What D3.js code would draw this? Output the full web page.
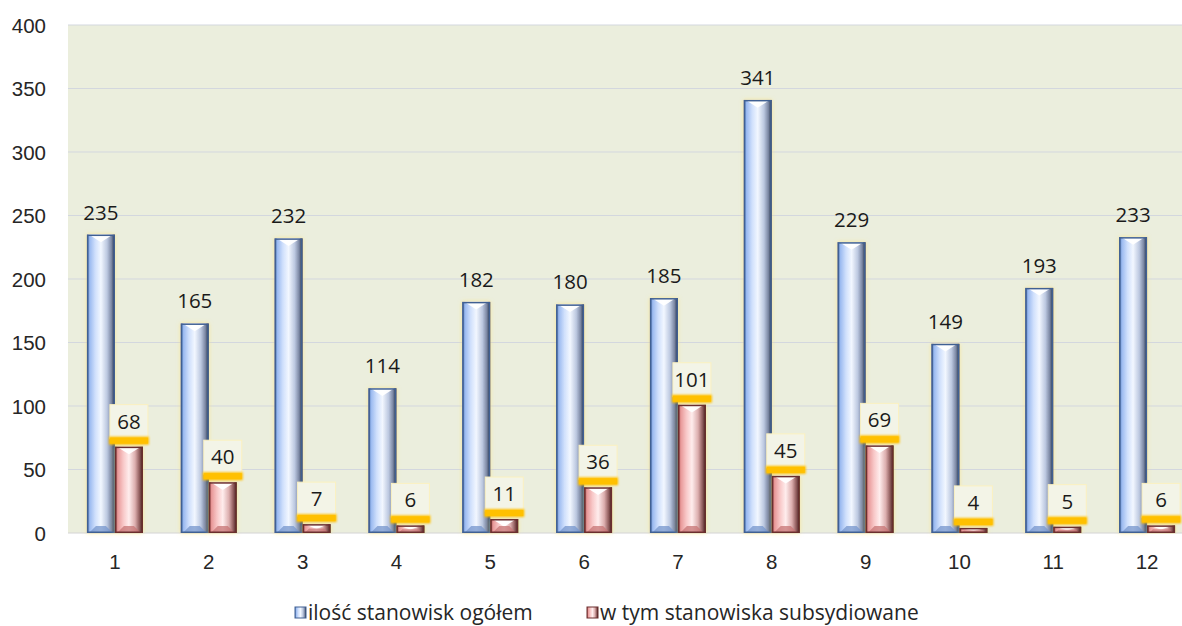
<!DOCTYPE html>
<html>
<head>
<meta charset="utf-8">
<style>
  body { margin: 0; background: #fff; }
  svg { display: block; font-family: "Open Sans", Lato, sans-serif; }
  .tick text { font-size: 20.5px; fill: #262626; }
</style>
</head>
<body>
<svg width="1182" height="626"></svg>
<script src="https://d3js.org/d3.v7.min.js"></script>
<script>
// data
let categories = ["1","2","3","4","5","6","7","8","9","10","11","12"];
let totalJobs = [235,165,232,114,182,180,185,341,229,149,193,233];
let subsidizedJobs = [68,40,7,6,11,36,101,45,69,4,5,6];
let yTicks = [0,50,100,150,200,250,300,350,400];
let seriesNames = ["ilość stanowisk ogółem", "w tym stanowiska subsydiowane"];

let svg = d3.select("svg");
let margin = {top: 25, left: 68, bottom: 93};
let plotRight = 1194;
let height = 626;

// scales
let x0 = d3.scaleBand()
    .domain(categories)
    .range([margin.left, plotRight])
    .paddingInner(0.403)
    .paddingOuter(0.2015);
let x1 = d3.scaleBand()
    .domain(["total","sub"])
    .range([0, x0.bandwidth()]);
let y = d3.scaleLinear()
    .domain([0, 400])
    .range([height - margin.bottom, margin.top]);

// gradients + filters
let defs = svg.append("defs");
function hGrad(id, stops) {
    let g = defs.append("linearGradient").attr("id", id)
        .attr("x1", "0%").attr("x2", "100%").attr("y1", "0%").attr("y2", "0%");
    stops.forEach(s => g.append("stop").attr("offset", s[0]).attr("stop-color", s[1]));
}
hGrad("blueFace", [["0%","#4169a8"],["10%","#9bbaf0"],["30%","#d0e0fc"],["50%","#f2f7ff"],["72%","#bcc8e0"],["88%","#7a86a2"],["100%","#1d2a42"]]);
hGrad("redFace", [["0%","#8a3434"],["10%","#e89898"],["30%","#f8c8c8"],["50%","#ffeded"],["72%","#dcaeae"],["88%","#8e5a5a"],["100%","#3a1818"]]);

let glow = defs.append("filter").attr("id", "glow")
    .attr("x", "-30%").attr("y", "-10%").attr("width", "160%").attr("height", "120%");
glow.append("feGaussianBlur").attr("in", "SourceAlpha").attr("stdDeviation", 2).attr("result", "b");
glow.append("feFlood").attr("flood-color", "#ffe066").attr("flood-opacity", 0.6);
glow.append("feComposite").attr("in2", "b").attr("operator", "in").attr("result", "c");
let mg = glow.append("feMerge");
mg.append("feMergeNode").attr("in", "c");
mg.append("feMergeNode").attr("in", "SourceGraphic");

let soft = defs.append("filter").attr("id", "soft")
    .attr("x", "-20%").attr("y", "-60%").attr("width", "140%").attr("height", "220%");
soft.append("feGaussianBlur").attr("stdDeviation", 1.3);

// plot background
svg.append("rect")
    .attr("x", margin.left).attr("y", margin.top)
    .attr("width", plotRight - margin.left)
    .attr("height", y(0) - margin.top)
    .attr("fill", "#ebeedd");

// gridlines
svg.append("g")
    .selectAll("line")
    .data(yTicks)
    .join("line")
    .attr("x1", margin.left).attr("x2", plotRight)
    .attr("y1", d => y(d)).attr("y2", d => y(d))
    .attr("stroke", d => d === 0 ? "#d4d4d4" : "#d3d7de")
    .attr("stroke-width", 1);

// y axis
let yAxis = svg.append("g")
    .attr("transform", "translate(" + (margin.left - 22) + ",0)")
    .call(d3.axisLeft(y).tickValues(yTicks).tickSize(0).tickPadding(0));
yAxis.select(".domain").remove();
yAxis.selectAll("text").attr("dy", "0.35em");

// x axis
let xAxis = svg.append("g")
    .attr("transform", "translate(0," + y(0) + ")")
    .call(d3.axisBottom(x0).tickSize(0).tickPadding(21));
xAxis.select(".domain").remove();

// bevelled bar
function drawBar(g, bx, by, bw, bh, face, cols) {
    let b = Math.min(7, bh / 2);
    let bar = g.append("g").attr("filter", "url(#glow)");
    bar.append("rect").attr("x", bx).attr("y", by).attr("width", bw).attr("height", bh)
        .attr("fill", "url(#" + face + ")");
    // top bevel
    bar.append("polygon")
        .attr("points", [[bx+2,by],[bx+bw-2,by],[bx+bw/2,by+b*1.1]].map(p => p.join(",")).join(" "))
        .attr("fill", cols.top).attr("opacity", 0.95);
    // bottom bevel
    bar.append("polygon")
        .attr("points", [[bx+2,by+bh],[bx+bw-2,by+bh],[bx+bw-b-2,by+bh-b],[bx+b+2,by+bh-b]].map(p => p.join(",")).join(" "))
        .attr("fill", cols.bottom).attr("opacity", 0.75);
    // outline
    bar.append("rect").attr("x", bx + 0.75).attr("y", by + 0.75)
        .attr("width", Math.max(0, bw - 1.5)).attr("height", Math.max(0, bh - 1.5))
        .attr("fill", "none").attr("stroke", cols.edge).attr("stroke-width", 1.5);
}

let bars = svg.append("g");
categories.forEach((c, i) => {
    let bx = x0(c) + x1("total");
    drawBar(bars, bx, y(totalJobs[i]), x1.bandwidth(), y(0) - y(totalJobs[i]), "blueFace",
        {top: "#ffffff", bottom: "#7596cc", edge: "#416193"});
    let rx = x0(c) + x1("sub");
    drawBar(bars, rx, y(subsidizedJobs[i]), x1.bandwidth(), y(0) - y(subsidizedJobs[i]), "redFace",
        {top: "#ffffff", bottom: "#c77474", edge: "#6b2e2e"});
});

// labels for totals
svg.append("g")
    .selectAll("text")
    .data(totalJobs)
    .join("text")
    .attr("x", (d, i) => x0(categories[i]) + x1("total") + x1.bandwidth() / 2)
    .attr("y", d => y(d) - 15)
    .attr("text-anchor", "middle")
    .attr("font-size", 20.5)
    .attr("fill", "#1a1a1a")
    .text(d => d);

// labels for subsidized (boxed, with orange band)
let subLab = svg.append("g")
    .selectAll("g")
    .data(subsidizedJobs)
    .join("g")
    .attr("transform", (d, i) => "translate(" + (x0(categories[i]) + x1("sub") + x1.bandwidth() / 2) + "," + y(d) + ")");
subLab.append("rect")
    .attr("x", -19).attr("y", -42).attr("width", 38).attr("height", 34)
    .attr("fill", "#f3f4e7").attr("stroke", "#fbf1c0").attr("stroke-width", 1);
subLab.append("rect")
    .attr("x", -20).attr("y", -10).attr("width", 40).attr("height", 8)
    .attr("fill", "#ffc000").attr("filter", "url(#soft)");
subLab.append("rect")
    .attr("x", -19).attr("y", -9).attr("width", 38).attr("height", 6)
    .attr("fill", "#ffc000");
subLab.append("text")
    .attr("y", -18)
    .attr("text-anchor", "middle")
    .attr("font-size", 20.5)
    .attr("fill", "#1a1a1a")
    .text(d => d);

// legend
let legend = svg.append("g").attr("transform", "translate(0,613)");
let legendItems = [
    {x: 295, name: seriesNames[0], face: "blueFace", edge: "#416193"},
    {x: 587, name: seriesNames[1], face: "redFace", edge: "#6b2e2e"}
];
legendItems.forEach(it => {
    legend.append("rect").attr("x", it.x).attr("y", -6).attr("width", 11).attr("height", 11)
        .attr("fill", "url(#" + it.face + ")").attr("stroke", it.edge).attr("stroke-width", 1);
    legend.append("text").attr("x", it.x + 13).attr("y", 6.5)
        .attr("font-size", 21).attr("fill", "#262626").text(it.name);
});
</script>
</body>
</html>
